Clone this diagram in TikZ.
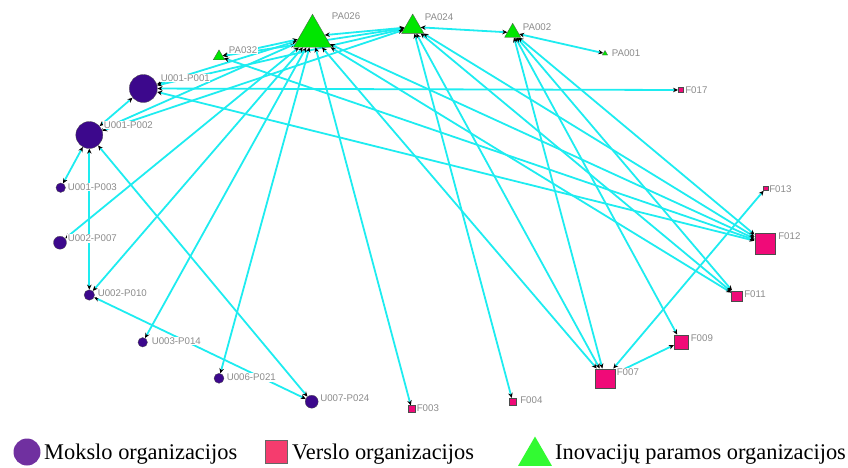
\documentclass[tikz,border=0pt]{standalone}
\usepackage{fontspec}
\setmainfont{Liberation Serif}
\newfontfamily\labfont{Liberation Sans}
\usetikzlibrary{shapes.geometric,arrows.meta}
\pgfdeclarelayer{bg}
\pgfsetlayers{bg,main}
\definecolor{edgecyan}{RGB}{30,236,240}
\definecolor{uni}{RGB}{60,8,140}
\definecolor{firm}{RGB}{240,10,120}
\definecolor{inno}{RGB}{0,230,0}
\definecolor{lgcircle}{RGB}{112,48,160}
\definecolor{lgsquare}{RGB}{245,60,110}
\definecolor{lgtri}{RGB}{50,250,50}
\definecolor{labgray}{RGB}{140,140,140}
\tikzset{
 unode/.style={circle,fill=uni,draw=black!70,line width=0.3pt,inner sep=0pt,minimum size=#1},
 fnode/.style={rectangle,fill=firm,draw=black!70,line width=0.3pt,inner sep=0pt,minimum size=#1},
 pnode/.style={regular polygon,regular polygon sides=3,fill=inno,draw=black!70,line width=0.3pt,inner sep=0pt,minimum size=#1},
 lab/.style={anchor=west,font=\labfont\fontsize{9.7}{10}\selectfont,text=labgray,fill=white,inner sep=0.6pt},
 link/.style={draw=edgecyan,line width=1.8pt,{Stealth[length=5pt,width=4.5pt,color=black]}-{Stealth[length=5pt,width=4.5pt,color=black]}},
 legtext/.style={anchor=base west,font=\fontsize{22.4}{24}\selectfont,inner sep=0pt},
}
\begin{document}
\begin{tikzpicture}[x=1pt,y=-1pt]
\useasboundingbox (0,0) rectangle (848,467);
% nodes
\node[pnode=43.9] (PA026) at (312.5,36.2) {};
\node[pnode=25.8] (PA024) at (412.7,26.9) {};
\node[pnode=18.7] (PA002) at (512.7,32.6) {};
\node[pnode=6] (PA001) at (605,53.5) {};
\node[pnode=13.3] (PA032) at (219,56.5) {};
\node[unode=28] (U1P1) at (143.3,88.5) {};
\node[unode=27] (U1P2) at (89.3,135) {};
\node[unode=9.5] (U1P3) at (60.7,187.7) {};
\node[unode=13] (U2P7) at (60,242.7) {};
\node[unode=10.5] (U2P10) at (89.3,295) {};
\node[unode=9.5] (U3P14) at (142.7,342.3) {};
\node[unode=10] (U6P21) at (219,378.3) {};
\node[unode=13] (U7P24) at (311.7,401.7) {};
\node[fnode=7] (F003) at (411.7,409) {};
\node[fnode=7.3] (F004) at (512.7,401.7) {};
\node[fnode=19.3] (F007) at (605,378.3) {};
\node[fnode=14] (F009) at (681,341.7) {};
\node[fnode=10.7] (F011) at (736.7,296) {};
\node[fnode=20.7] (F012) at (765,243.3) {};
\node[fnode=4.5] (F013) at (765.7,188.3) {};
\node[fnode=5] (F017) at (680.7,90) {};
% edges
\begin{pgfonlayer}{bg}
\foreach \a/\b in {U1P1/F017,U1P1/F012,U1P1/PA026,U1P1/PA024,
  U1P2/PA026,U1P2/PA024,U1P2/U1P1,U1P2/U7P24,
  U1P3/U1P2,U2P10/U1P2,U2P10/U7P24,
  U2P7/PA026,U2P10/PA026,U3P14/PA026,U6P21/PA026,
  PA026/F003,PA026/F007,PA026/F011,PA026/F012,PA026/PA024,
  PA032/PA026,PA032/PA024,PA032/F012,
  PA024/PA002,PA024/F004,PA024/F007,PA024/F011,PA024/F012,
  PA002/PA001,PA002/F007,PA002/F009,PA002/F011,PA002/F012,
  F009/F007,F007/F013}
  \draw[link] (\a) -- (\b);
\end{pgfonlayer}
% labels
\node[lab] (lPA026) at (331,16) {PA026};
\node[lab] (lPA024) at (424,17) {PA024};
\node[lab] (lPA002) at (522,27) {PA002};
\node[lab] (lPA001) at (611,53.5) {PA001};
\node[lab] (lPA032) at (228,50) {PA032};
\node[lab] (lU1P1) at (160,78) {U001-P001};
\node[lab] (lU1P2) at (103,125) {U001-P002};
\node[lab] (lU1P3) at (67,187) {U001-P003};
\node[lab] (lU2P7) at (67,238.5) {U002-P007};
\node[lab] (lU2P10) at (97,293.5) {U002-P010};
\node[lab] (lU3P14) at (151,341) {U003-P014};
\node[lab] (lU6P21) at (226,377.5) {U006-P021};
\node[lab] (lU7P24) at (319.5,398.5) {U007-P024};
\node[lab] (lF003) at (416,408.5) {F003};
\node[lab] (lF004) at (519.5,400.5) {F004};
\node[lab] (lF007) at (616,372) {F007};
\node[lab] (lF009) at (690,338) {F009};
\node[lab] (lF011) at (743.5,294.5) {F011};
\node[lab] (lF012) at (777.5,236) {F012};
\node[lab] (lF013) at (768.5,189.5) {F013};
\node[lab] (lF017) at (684.5,90) {F017};
% legend
\node[circle,fill=lgcircle,inner sep=0pt,minimum size=27] (lg1) at (27,452) {};
\node[legtext] (lt1) at (44,459) {Mokslo organizacijos};
\node[rectangle,fill=lgsquare,draw=black!60,line width=0.8pt,inner sep=0pt,minimum width=22,minimum height=23] (lg2) at (276,452) {};
\node[legtext] (lt2) at (292,459) {Verslo organizacijos};
\node[regular polygon,regular polygon sides=3,fill=lgtri,inner sep=0pt,minimum size=39] (lg3) at (535,456) {};
\node[legtext] (lt3) at (555,459) {Inovacijų paramos organizacijos};
\end{tikzpicture}
\end{document}
